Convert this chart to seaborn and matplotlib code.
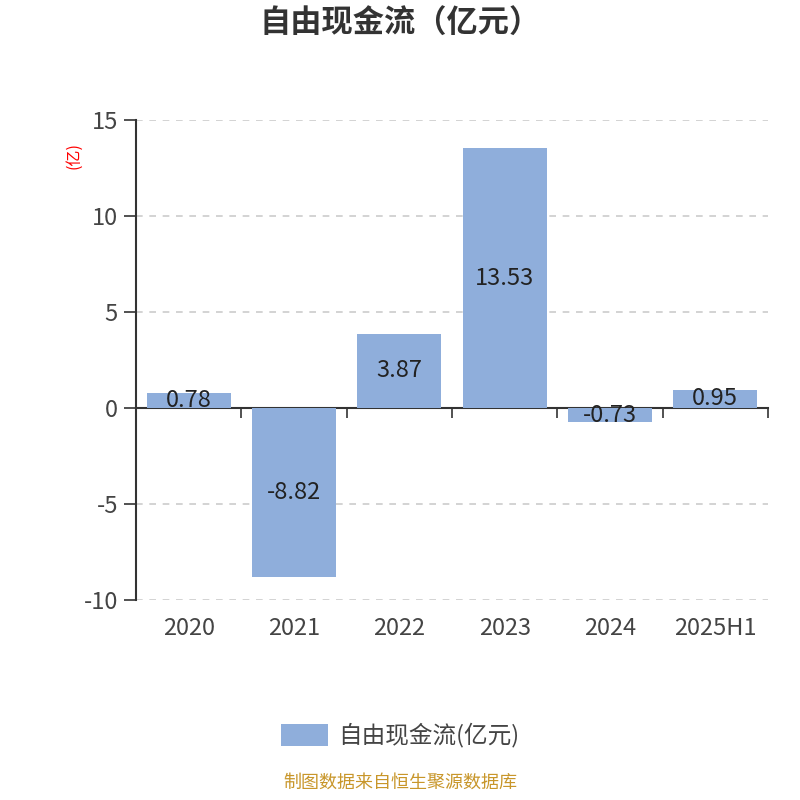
import matplotlib
matplotlib.use("Agg")
import matplotlib.pyplot as plt
import seaborn as sns
import pandas as pd
from matplotlib.patches import FancyBboxPatch
from matplotlib.legend_handler import HandlerPatch

categories = ["2020", "2021", "2022", "2023", "2024", "2025H1"]
values = [0.78, -8.82, 3.87, 13.53, -0.73, 0.95]
y_ticks = [-10, -5, 0, 5, 10, 15]
series_name = "自由现金流(亿元)"
title = "自由现金流（亿元）"
unit_label = "(亿)"
footer = "制图数据来自恒生聚源数据库"

sns.set_theme(style="white")
plt.rcParams['font.family'] = ['Noto Sans CJK SC', 'DejaVu Sans']
plt.rcParams['axes.unicode_minus'] = False

bar_color = "#8FAEDB"
text_color = "#333333"
label_color = "#444444"
fs = 17

df = pd.DataFrame({"year": categories, "value": values})

fig = plt.figure(figsize=(8, 8), dpi=100)
ax = fig.add_axes([0.17, 0.25, 0.79, 0.60])

sns.barplot(data=df, x="year", y="value", color=bar_color, saturation=1,
            width=0.8, ax=ax, label=series_name, linewidth=0)

ax.set_ylim(min(y_ticks), max(y_ticks))
ax.set_xlim(-0.5, len(categories) - 0.5)
ax.set_yticks(y_ticks)
ax.set_yticklabels([str(t) for t in y_ticks])

# grid
for t in y_ticks:
    if t != 0:
        ax.axhline(t, color="#CCCCCC", linestyle=(0, (4, 4)), linewidth=1.2, zorder=0)

for s in ["top", "right", "bottom"]:
    ax.spines[s].set_visible(False)
ax.spines["left"].set_color(text_color)
ax.spines["left"].set_linewidth(1.5)

ax.tick_params(axis="y", left=True, length=9, width=1.2, color=text_color,
               labelsize=fs, labelcolor=label_color, pad=4)
ax.tick_params(axis="x", bottom=False, labelsize=fs, labelcolor=label_color, pad=6)
ax.set_xlabel("")
ax.set_ylabel(unit_label, color="red", fontsize=11.5)
ax.yaxis.set_label_coords(-0.085, 0.927)

# zero axis with boundary ticks
ymin, ymax = ax.get_ylim()
zero_frac = (0 - ymin) / (ymax - ymin)
sec = ax.secondary_xaxis(zero_frac)
sec.set_xticks([i - 0.5 for i in range(len(categories) + 1)])
sec.xaxis.set_ticks_position("bottom")
sec.tick_params(axis="x", length=7, width=1.2, color=text_color, labelbottom=False,
                labeltop=False, direction="out")
for s in ["top", "left", "right"]:
    sec.spines[s].set_visible(False)
sec.spines["bottom"].set_color(text_color)
sec.spines["bottom"].set_linewidth(1.5)

# bar labels
for cont in ax.containers:
    ax.bar_label(cont, labels=[f"{v:.2f}" for v in values], label_type="center",
                 fontsize=fs, color="#222222")

fig.suptitle(title, fontsize=22.5, fontweight="bold", color=text_color, x=0.5, y=0.99)


def rounded(legend, orig_handle, xdescent, ydescent, width, height, fontsize):
    return FancyBboxPatch((-xdescent, -ydescent), width, height,
                          boxstyle="round,pad=0,rounding_size=5")


leg = ax.legend(loc="center", bbox_to_anchor=(0.5, 0.081), bbox_transform=fig.transFigure,
                frameon=False, fontsize=fs, handlelength=2.0, handleheight=1.05,
                handletextpad=0.45,
                handler_map={matplotlib.patches.Rectangle: HandlerPatch(patch_func=rounded)})
for t in leg.get_texts():
    t.set_color(label_color)

fig.text(0.5, 0.011, footer, ha="center", va="bottom", fontsize=13, color="#C8962A")

fig.savefig("out.png", dpi=100)
